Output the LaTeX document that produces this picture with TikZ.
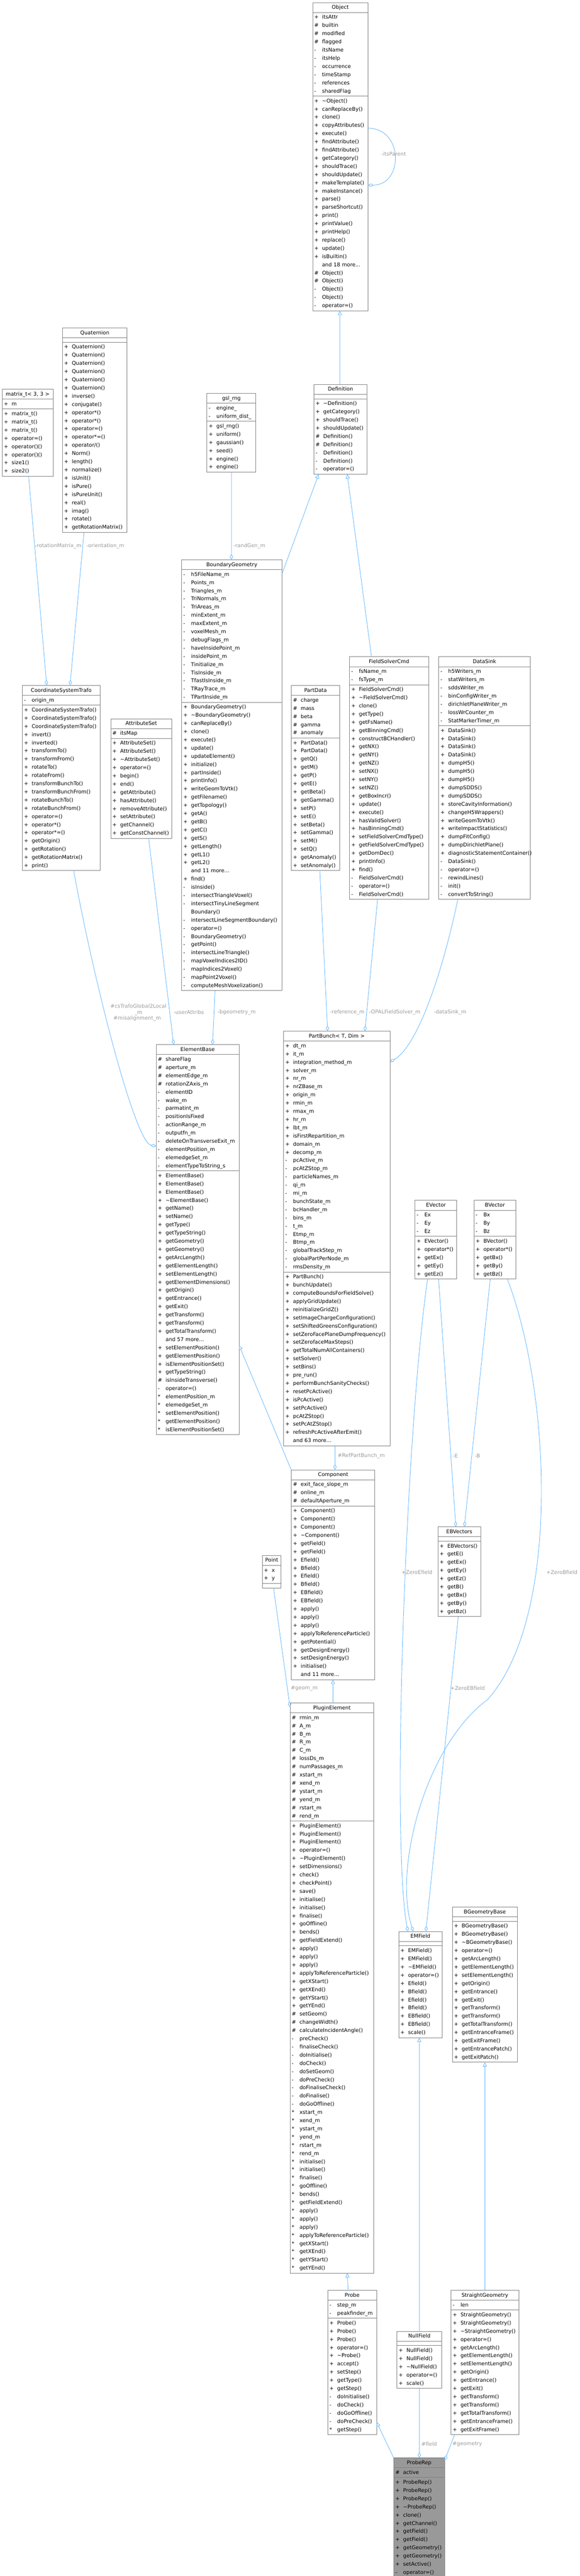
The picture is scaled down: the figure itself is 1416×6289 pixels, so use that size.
\documentclass[tikz,border=0pt]{standalone}
\usepackage{fontspec}
\setmainfont{DejaVu Sans}
\usetikzlibrary{shapes.multipart,arrows.meta}
\definecolor{boxgray}{HTML}{808080}
\definecolor{edgeblue}{HTML}{63B8FF}
\definecolor{labelgray}{HTML}{9A9A9A}
\definecolor{repfill}{HTML}{999999}
\newcommand\mm[2]{\makebox[19bp][l]{\strut#1}#2}
\newcommand\ttl[1]{\makebox[\linewidth]{\strut#1}}
\newcommand\emp{\rule{0pt}{7bp}}
\tikzset{
 cls/.style={rectangle split, rectangle split parts=3, draw=boxgray, line width=1bp, fill=white,
   inner xsep=4bp, inner ysep=1.5bp, anchor=north west, align=left, text width=#1bp-8bp,
   font=\fontsize{12.7bp}{20bp}\selectfont},
 edge/.style={draw=edgeblue, line width=1.1bp},
 agg/.style={edge, -{Diamond[open, length=13bp, width=8bp]}},
 inh/.style={edge, -{Triangle[open, length=10bp, width=10bp]}},
 lbl/.style={font=\fontsize{12.7bp}{14bp}\selectfont, text=labelgray, inner sep=0pt, align=center}
}
\begin{document}
\begin{tikzpicture}[x=1bp,y=-1bp]
\useasboundingbox (0,0) rectangle (1416,6289);

\node[cls=135] (Obj) at (763,6) {\ttl{Object}\nodepart{two}\mm{+}{itsAttr}\\\mm{\#}{builtin}\\\mm{\#}{modified}\\\mm{\#}{flagged}\\\mm{-}{itsName}\\\mm{-}{itsHelp}\\\mm{-}{occurrence}\\\mm{-}{timeStamp}\\\mm{-}{references}\\\mm{-}{sharedFlag}
\nodepart{three}\mm{+}{\textasciitilde Object()}\\\mm{+}{canReplaceBy()}\\\mm{+}{clone()}\\\mm{+}{copyAttributes()}\\\mm{+}{execute()}\\\mm{+}{findAttribute()}\\\mm{+}{findAttribute()}\\\mm{+}{getCategory()}\\\mm{+}{shouldTrace()}\\\mm{+}{shouldUpdate()}\\\mm{+}{makeTemplate()}\\\mm{+}{makeInstance()}\\\mm{+}{parse()}\\\mm{+}{parseShortcut()}\\\mm{+}{print()}\\\mm{+}{printValue()}\\\mm{+}{printHelp()}\\\mm{+}{replace()}\\\mm{+}{update()}\\\mm{+}{isBuiltin()}\\\mm{}{and 18 more...}\\\mm{\#}{Object()}\\\mm{\#}{Object()}\\\mm{-}{Object()}\\\mm{-}{Object()}\\\mm{-}{operator=()}};

\node[cls=130] (Def) at (766,938) {\ttl{Definition}\nodepart{two}\emp\nodepart{three}\mm{+}{\textasciitilde Definition()}\\\mm{+}{getCategory()}\\\mm{+}{shouldTrace()}\\\mm{+}{shouldUpdate()}\\\mm{\#}{Definition()}\\\mm{\#}{Definition()}\\\mm{-}{Definition()}\\\mm{-}{Definition()}\\\mm{-}{operator=()}};

\node[cls=124] (Mat) at (5,950) {\ttl{matrix\_t< 3, 3 >}\nodepart{two}\mm{+}{m}\nodepart{three}\mm{+}{matrix\_t()}\\\mm{+}{matrix\_t()}\\\mm{+}{matrix\_t()}\\\mm{+}{operator=()}\\\mm{+}{operator()()}\\\mm{+}{operator()()}\\\mm{+}{size1()}\\\mm{+}{size2()}};

\node[cls=158] (Quat) at (152,800) {\ttl{Quaternion}\nodepart{two}\emp\nodepart{three}\mm{+}{Quaternion()}\\\mm{+}{Quaternion()}\\\mm{+}{Quaternion()}\\\mm{+}{Quaternion()}\\\mm{+}{Quaternion()}\\\mm{+}{Quaternion()}\\\mm{+}{inverse()}\\\mm{+}{conjugate()}\\\mm{+}{operator*()}\\\mm{+}{operator*()}\\\mm{+}{operator=()}\\\mm{+}{operator*=()}\\\mm{+}{operator/()}\\\mm{+}{Norm()}\\\mm{+}{length()}\\\mm{+}{normalize()}\\\mm{+}{isUnit()}\\\mm{+}{isPure()}\\\mm{+}{isPureUnit()}\\\mm{+}{real()}\\\mm{+}{imag()}\\\mm{+}{rotate()}\\\mm{+}{getRotationMatrix()}};

\node[cls=119] (Gsl) at (505,960) {\ttl{gsl\_rng}\nodepart{two}\mm{-}{engine\_}\\\mm{-}{uniform\_dist\_}\nodepart{three}\mm{+}{gsl\_rng()}\\\mm{+}{uniform()}\\\mm{+}{gaussian()}\\\mm{+}{seed()}\\\mm{+}{engine()}\\\mm{+}{engine()}};

\node[cls=245] (BG) at (443,1366) {\ttl{BoundaryGeometry}\nodepart{two}\mm{-}{h5FileName\_m}\\\mm{-}{Points\_m}\\\mm{-}{Triangles\_m}\\\mm{-}{TriNormals\_m}\\\mm{-}{TriAreas\_m}\\\mm{-}{minExtent\_m}\\\mm{-}{maxExtent\_m}\\\mm{-}{voxelMesh\_m}\\\mm{-}{debugFlags\_m}\\\mm{-}{haveInsidePoint\_m}\\\mm{-}{insidePoint\_m}\\\mm{-}{Tinitialize\_m}\\\mm{-}{TisInside\_m}\\\mm{-}{TfastIsInside\_m}\\\mm{-}{TRayTrace\_m}\\\mm{-}{TPartInside\_m}
\nodepart{three}\mm{+}{BoundaryGeometry()}\\\mm{+}{\textasciitilde BoundaryGeometry()}\\\mm{+}{canReplaceBy()}\\\mm{+}{clone()}\\\mm{+}{execute()}\\\mm{+}{update()}\\\mm{+}{updateElement()}\\\mm{+}{initialize()}\\\mm{+}{partInside()}\\\mm{+}{printInfo()}\\\mm{+}{writeGeomToVtk()}\\\mm{+}{getFilename()}\\\mm{+}{getTopology()}\\\mm{+}{getA()}\\\mm{+}{getB()}\\\mm{+}{getC()}\\\mm{+}{getS()}\\\mm{+}{getLength()}\\\mm{+}{getL1()}\\\mm{+}{getL2()}\\\mm{}{and 11 more...}\\\mm{+}{find()}\\\mm{-}{isInside()}\\\mm{-}{intersectTriangleVoxel()}\\\mm{-}{intersectTinyLineSegment}\\\mm{}{Boundary()}\\\mm{-}{intersectLineSegmentBoundary()}\\\mm{-}{operator=()}\\\mm{-}{BoundaryGeometry()}\\\mm{-}{getPoint()}\\\mm{-}{intersectLineTriangle()}\\\mm{-}{mapVoxelIndices2ID()}\\\mm{-}{mapIndices2Voxel()}\\\mm{-}{mapPoint2Voxel()}\\\mm{-}{computeMeshVoxelization()}};

\node[cls=190] (CST) at (54,1673) {\ttl{CoordinateSystemTrafo}\nodepart{two}\mm{-}{origin\_m}\nodepart{three}\mm{+}{CoordinateSystemTrafo()}\\\mm{+}{CoordinateSystemTrafo()}\\\mm{+}{CoordinateSystemTrafo()}\\\mm{+}{invert()}\\\mm{+}{inverted()}\\\mm{+}{transformTo()}\\\mm{+}{transformFrom()}\\\mm{+}{rotateTo()}\\\mm{+}{rotateFrom()}\\\mm{+}{transformBunchTo()}\\\mm{+}{transformBunchFrom()}\\\mm{+}{rotateBunchTo()}\\\mm{+}{rotateBunchFrom()}\\\mm{+}{operator=()}\\\mm{+}{operator*()}\\\mm{+}{operator*=()}\\\mm{+}{getOrigin()}\\\mm{+}{getRotation()}\\\mm{+}{getRotationMatrix()}\\\mm{+}{print()}};

\node[cls=149] (AS) at (270,1754) {\ttl{AttributeSet}\nodepart{two}\mm{\#}{itsMap}\nodepart{three}\mm{+}{AttributeSet()}\\\mm{+}{AttributeSet()}\\\mm{+}{\textasciitilde AttributeSet()}\\\mm{+}{operator=()}\\\mm{+}{begin()}\\\mm{+}{end()}\\\mm{+}{getAttribute()}\\\mm{+}{hasAttribute()}\\\mm{+}{removeAttribute()}\\\mm{+}{setAttribute()}\\\mm{+}{getChannel()}\\\mm{+}{getConstChannel()}};

\node[cls=118] (PD) at (711,1673) {\ttl{PartData}\nodepart{two}\mm{\#}{charge}\\\mm{\#}{mass}\\\mm{\#}{beta}\\\mm{\#}{gamma}\\\mm{\#}{anomaly}\nodepart{three}\mm{+}{PartData()}\\\mm{+}{PartData()}\\\mm{+}{getQ()}\\\mm{+}{getM()}\\\mm{+}{getP()}\\\mm{+}{getE()}\\\mm{+}{getBeta()}\\\mm{+}{getGamma()}\\\mm{+}{setP()}\\\mm{+}{setE()}\\\mm{+}{setBeta()}\\\mm{+}{setGamma()}\\\mm{+}{setM()}\\\mm{+}{setQ()}\\\mm{+}{getAnomaly()}\\\mm{+}{setAnomaly()}};

\node[cls=193] (FSC) at (853,1603) {\ttl{FieldSolverCmd}\nodepart{two}\mm{-}{fsName\_m}\\\mm{-}{fsType\_m}\nodepart{three}\mm{+}{FieldSolverCmd()}\\\mm{+}{\textasciitilde FieldSolverCmd()}\\\mm{+}{clone()}\\\mm{+}{getType()}\\\mm{+}{getFsName()}\\\mm{+}{getBinningCmd()}\\\mm{+}{constructBCHandler()}\\\mm{+}{getNX()}\\\mm{+}{getNY()}\\\mm{+}{getNZ()}\\\mm{+}{setNX()}\\\mm{+}{setNY()}\\\mm{+}{setNZ()}\\\mm{+}{getBoxIncr()}\\\mm{+}{update()}\\\mm{+}{execute()}\\\mm{+}{hasValidSolver()}\\\mm{+}{hasBinningCmd()}\\\mm{+}{setFieldSolverCmdType()}\\\mm{+}{getFieldSolverCmdType()}\\\mm{+}{getDomDec()}\\\mm{+}{printInfo()}\\\mm{+}{find()}\\\mm{-}{FieldSolverCmd()}\\\mm{-}{operator=()}\\\mm{-}{FieldSolverCmd()}};

\node[cls=223] (DS) at (1071,1603) {\ttl{DataSink}\nodepart{two}\mm{-}{h5Writers\_m}\\\mm{-}{statWriters\_m}\\\mm{-}{sddsWriter\_m}\\\mm{-}{binConfigWriter\_m}\\\mm{-}{dirichletPlaneWriter\_m}\\\mm{-}{lossWrCounter\_m}\\\mm{-}{StatMarkerTimer\_m}\nodepart{three}\mm{+}{DataSink()}\\\mm{+}{DataSink()}\\\mm{+}{DataSink()}\\\mm{+}{DataSink()}\\\mm{+}{dumpH5()}\\\mm{+}{dumpH5()}\\\mm{+}{dumpH5()}\\\mm{+}{dumpSDDS()}\\\mm{+}{dumpSDDS()}\\\mm{+}{storeCavityInformation()}\\\mm{+}{changeH5Wrappers()}\\\mm{+}{writeGeomToVtk()}\\\mm{+}{writeImpactStatistics()}\\\mm{+}{dumpFitConfig()}\\\mm{+}{dumpDirichletPlane()}\\\mm{+}{diagnosticStatementContainer()}\\\mm{-}{DataSink()}\\\mm{-}{operator=()}\\\mm{-}{rewindLines()}\\\mm{-}{init()}\\\mm{-}{convertToString()}};

\node[cls=202] (EB) at (381,2550) {\ttl{ElementBase}\nodepart{two}\mm{\#}{shareFlag}\\\mm{\#}{aperture\_m}\\\mm{\#}{elementEdge\_m}\\\mm{\#}{rotationZAxis\_m}\\\mm{-}{elementID}\\\mm{-}{wake\_m}\\\mm{-}{parmatint\_m}\\\mm{-}{positionIsFixed}\\\mm{-}{actionRange\_m}\\\mm{-}{outputfn\_m}\\\mm{-}{deleteOnTransverseExit\_m}\\\mm{-}{elementPosition\_m}\\\mm{-}{elemedgeSet\_m}\\\mm{-}{elementTypeToString\_s}
\nodepart{three}\mm{+}{ElementBase()}\\\mm{+}{ElementBase()}\\\mm{+}{ElementBase()}\\\mm{+}{\textasciitilde ElementBase()}\\\mm{+}{getName()}\\\mm{+}{setName()}\\\mm{+}{getType()}\\\mm{+}{getTypeString()}\\\mm{+}{getGeometry()}\\\mm{+}{getGeometry()}\\\mm{+}{getArcLength()}\\\mm{+}{getElementLength()}\\\mm{+}{setElementLength()}\\\mm{+}{getElementDimensions()}\\\mm{+}{getOrigin()}\\\mm{+}{getEntrance()}\\\mm{+}{getExit()}\\\mm{+}{getTransform()}\\\mm{+}{getTransform()}\\\mm{+}{getTotalTransform()}\\\mm{}{and 57 more...}\\\mm{+}{setElementPosition()}\\\mm{+}{getElementPosition()}\\\mm{+}{isElementPositionSet()}\\\mm{+}{getTypeString()}\\\mm{\#}{isInsideTransverse()}\\\mm{-}{operator=()}\\\mm{*}{elementPosition\_m}\\\mm{*}{elemedgeSet\_m}\\\mm{*}{setElementPosition()}\\\mm{*}{getElementPosition()}\\\mm{*}{isElementPositionSet()}};

\node[cls=260] (PB) at (692,2517) {\ttl{PartBunch< T, Dim >}\nodepart{two}\mm{+}{dt\_m}\\\mm{+}{it\_m}\\\mm{+}{integration\_method\_m}\\\mm{+}{solver\_m}\\\mm{+}{nr\_m}\\\mm{+}{nrZBase\_m}\\\mm{+}{origin\_m}\\\mm{+}{rmin\_m}\\\mm{+}{rmax\_m}\\\mm{+}{hr\_m}\\\mm{+}{lbt\_m}\\\mm{+}{isFirstRepartition\_m}\\\mm{+}{domain\_m}\\\mm{+}{decomp\_m}\\\mm{-}{pcActive\_m}\\\mm{-}{pcAtZStop\_m}\\\mm{-}{particleNames\_m}\\\mm{-}{qi\_m}\\\mm{-}{mi\_m}\\\mm{-}{bunchState\_m}\\\mm{-}{bcHandler\_m}\\\mm{-}{bins\_m}\\\mm{-}{t\_m}\\\mm{-}{Etmp\_m}\\\mm{-}{Btmp\_m}\\\mm{-}{globalTrackStep\_m}\\\mm{-}{globalPartPerNode\_m}\\\mm{-}{rmsDensity\_m}
\nodepart{three}\mm{+}{PartBunch()}\\\mm{+}{bunchUpdate()}\\\mm{+}{computeBoundsForFieldSolve()}\\\mm{+}{applyGridUpdate()}\\\mm{+}{reinitializeGridZ()}\\\mm{+}{setImageChargeConfiguration()}\\\mm{+}{setShiftedGreensConfiguration()}\\\mm{+}{setZeroFacePlaneDumpFrequency()}\\\mm{+}{setZerofaceMaxSteps()}\\\mm{+}{getTotalNumAllContainers()}\\\mm{+}{setSolver()}\\\mm{+}{setBins()}\\\mm{+}{pre\_run()}\\\mm{+}{performBunchSanityChecks()}\\\mm{+}{resetPcActive()}\\\mm{+}{isPcActive()}\\\mm{+}{setPcActive()}\\\mm{+}{pcAtZStop()}\\\mm{+}{setPcAtZStop()}\\\mm{+}{refreshPcActiveAfterEmit()}\\\mm{}{and 63 more...}};

\node[cls=102] (EV) at (1013,2930) {\ttl{EVector}\nodepart{two}\mm{-}{Ex}\\\mm{-}{Ey}\\\mm{-}{Ez}\nodepart{three}\mm{+}{EVector()}\\\mm{+}{operator*()}\\\mm{+}{getEx()}\\\mm{+}{getEy()}\\\mm{+}{getEz()}};
\node[cls=102] (BV) at (1157,2930) {\ttl{BVector}\nodepart{two}\mm{-}{Bx}\\\mm{-}{By}\\\mm{-}{Bz}\nodepart{three}\mm{+}{BVector()}\\\mm{+}{operator*()}\\\mm{+}{getBx()}\\\mm{+}{getBy()}\\\mm{+}{getBz()}};

\node[cls=204] (Comp) at (711,3588) {\ttl{Component}\nodepart{two}\mm{\#}{exit\_face\_slope\_m}\\\mm{\#}{online\_m}\\\mm{\#}{defaultAperture\_m}\nodepart{three}\mm{+}{Component()}\\\mm{+}{Component()}\\\mm{+}{Component()}\\\mm{+}{\textasciitilde Component()}\\\mm{+}{getField()}\\\mm{+}{getField()}\\\mm{+}{Efield()}\\\mm{+}{Bfield()}\\\mm{+}{Efield()}\\\mm{+}{Bfield()}\\\mm{+}{EBfield()}\\\mm{+}{EBfield()}\\\mm{+}{apply()}\\\mm{+}{apply()}\\\mm{+}{apply()}\\\mm{+}{applyToReferenceParticle()}\\\mm{+}{getPotential()}\\\mm{+}{getDesignEnergy()}\\\mm{+}{setDesignEnergy()}\\\mm{+}{initialise()}\\\mm{}{and 11 more...}};

\node[cls=46] (Pt) at (640,3797) {\ttl{Point}\nodepart{two}\mm{+}{x}\\\mm{+}{y}\nodepart{three}\emp};

\node[cls=104] (EBV) at (1069,3727) {\ttl{EBVectors}\nodepart{two}\emp\nodepart{three}\mm{+}{EBVectors()}\\\mm{+}{getE()}\\\mm{+}{getEx()}\\\mm{+}{getEy()}\\\mm{+}{getEz()}\\\mm{+}{getB()}\\\mm{+}{getBx()}\\\mm{+}{getBy()}\\\mm{+}{getBz()}};

\node[cls=204] (PE) at (708,4157) {\ttl{PluginElement}\nodepart{two}\mm{\#}{rmin\_m}\\\mm{\#}{A\_m}\\\mm{\#}{B\_m}\\\mm{\#}{R\_m}\\\mm{\#}{C\_m}\\\mm{\#}{lossDs\_m}\\\mm{\#}{numPassages\_m}\\\mm{\#}{xstart\_m}\\\mm{\#}{xend\_m}\\\mm{\#}{ystart\_m}\\\mm{\#}{yend\_m}\\\mm{\#}{rstart\_m}\\\mm{\#}{rend\_m}
\nodepart{three}\mm{+}{PluginElement()}\\\mm{+}{PluginElement()}\\\mm{+}{PluginElement()}\\\mm{+}{operator=()}\\\mm{+}{\textasciitilde PluginElement()}\\\mm{+}{setDimensions()}\\\mm{+}{check()}\\\mm{+}{checkPoint()}\\\mm{+}{save()}\\\mm{+}{initialise()}\\\mm{+}{initialise()}\\\mm{+}{finalise()}\\\mm{+}{goOffline()}\\\mm{+}{bends()}\\\mm{+}{getFieldExtend()}\\\mm{+}{apply()}\\\mm{+}{apply()}\\\mm{+}{apply()}\\\mm{+}{applyToReferenceParticle()}\\\mm{+}{getXStart()}\\\mm{+}{getXEnd()}\\\mm{+}{getYStart()}\\\mm{+}{getYEnd()}\\\mm{\#}{setGeom()}\\\mm{\#}{changeWidth()}\\\mm{\#}{calculateIncidentAngle()}\\\mm{-}{preCheck()}\\\mm{-}{finaliseCheck()}\\\mm{-}{doInitialise()}\\\mm{-}{doCheck()}\\\mm{-}{doSetGeom()}\\\mm{-}{doPreCheck()}\\\mm{-}{doFinaliseCheck()}\\\mm{-}{doFinalise()}\\\mm{-}{doGoOffline()}\\\mm{*}{xstart\_m}\\\mm{*}{xend\_m}\\\mm{*}{ystart\_m}\\\mm{*}{yend\_m}\\\mm{*}{rstart\_m}\\\mm{*}{rend\_m}\\\mm{*}{initialise()}\\\mm{*}{initialise()}\\\mm{*}{finalise()}\\\mm{*}{goOffline()}\\\mm{*}{bends()}\\\mm{*}{getFieldExtend()}\\\mm{*}{apply()}\\\mm{*}{apply()}\\\mm{*}{apply()}\\\mm{*}{applyToReferenceParticle()}\\\mm{*}{getXStart()}\\\mm{*}{getXEnd()}\\\mm{*}{getYStart()}\\\mm{*}{getYEnd()}};

\node[cls=106] (EM) at (973,4715) {\ttl{EMField}\nodepart{two}\emp\nodepart{three}\mm{+}{EMField()}\\\mm{+}{EMField()}\\\mm{+}{\textasciitilde EMField()}\\\mm{+}{operator=()}\\\mm{+}{Efield()}\\\mm{+}{Bfield()}\\\mm{+}{Efield()}\\\mm{+}{Bfield()}\\\mm{+}{EBfield()}\\\mm{+}{EBfield()}\\\mm{+}{scale()}};

\node[cls=159] (BGB) at (1104,4655) {\ttl{BGeometryBase}\nodepart{two}\emp\nodepart{three}\mm{+}{BGeometryBase()}\\\mm{+}{BGeometryBase()}\\\mm{+}{\textasciitilde BGeometryBase()}\\\mm{+}{operator=()}\\\mm{+}{getArcLength()}\\\mm{+}{getElementLength()}\\\mm{+}{setElementLength()}\\\mm{+}{getOrigin()}\\\mm{+}{getEntrance()}\\\mm{+}{getExit()}\\\mm{+}{getTransform()}\\\mm{+}{getTransform()}\\\mm{+}{getTotalTransform()}\\\mm{+}{getEntranceFrame()}\\\mm{+}{getExitFrame()}\\\mm{+}{getEntrancePatch()}\\\mm{+}{getExitPatch()}};

\node[cls=119] (Pr) at (800,5591) {\ttl{Probe}\nodepart{two}\mm{-}{step\_m}\\\mm{-}{peakfinder\_m}\nodepart{three}\mm{+}{Probe()}\\\mm{+}{Probe()}\\\mm{+}{Probe()}\\\mm{+}{operator=()}\\\mm{+}{\textasciitilde Probe()}\\\mm{+}{accept()}\\\mm{+}{setStep()}\\\mm{+}{getType()}\\\mm{+}{getStep()}\\\mm{-}{doInitialise()}\\\mm{-}{doCheck()}\\\mm{-}{doGoOffline()}\\\mm{-}{doPreCheck()}\\\mm{*}{getStep()}};

\node[cls=109] (NF) at (969,5691) {\ttl{NullField}\nodepart{two}\emp\nodepart{three}\mm{+}{NullField()}\\\mm{+}{NullField()}\\\mm{+}{\textasciitilde NullField()}\\\mm{+}{operator=()}\\\mm{+}{scale()}};

\node[cls=165] (SG) at (1101,5591) {\ttl{StraightGeometry}\nodepart{two}\mm{-}{len}\nodepart{three}\mm{+}{StraightGeometry()}\\\mm{+}{StraightGeometry()}\\\mm{+}{\textasciitilde StraightGeometry()}\\\mm{+}{operator=()}\\\mm{+}{getArcLength()}\\\mm{+}{getElementLength()}\\\mm{+}{setElementLength()}\\\mm{+}{getOrigin()}\\\mm{+}{getEntrance()}\\\mm{+}{getExit()}\\\mm{+}{getTransform()}\\\mm{+}{getTransform()}\\\mm{+}{getTotalTransform()}\\\mm{+}{getEntranceFrame()}\\\mm{+}{getExitFrame()}};

\node[cls=124, fill=repfill] (PR) at (961,6000) {\ttl{ProbeRep}\nodepart{two}\mm{\#}{active}\nodepart{three}\mm{+}{ProbeRep()}\\\mm{+}{ProbeRep()}\\\mm{+}{ProbeRep()}\\\mm{+}{\textasciitilde ProbeRep()}\\\mm{+}{clone()}\\\mm{+}{getChannel()}\\\mm{+}{getField()}\\\mm{+}{getField()}\\\mm{+}{getGeometry()}\\\mm{+}{getGeometry()}\\\mm{+}{setActive()}\\\mm{-}{operator=()}};

% connectors
\draw[inh] ([xshift=64bp]Def.north west) -- ([xshift=67bp]Obj.south west);
\draw[agg] ([yshift=-307bp]Obj.north east) to[out=0,in=0,looseness=1.6] ([yshift=-446bp]Obj.north east);
\node[lbl] (lpar) at (961,376) {-itsParent};
\draw[agg] ([xshift=65bp]Mat.south west) -- ([xshift=60bp]CST.north west);
\node[lbl] (lrot) at (142,1333) {-rotationMatrix\_m};
\draw[agg] ([xshift=53bp]Quat.south west) -- ([xshift=117bp]CST.north west);
\node[lbl] (lori) at (257,1333) {-orientation\_m};
\draw[agg] ([xshift=60bp]Gsl.south west) -- ([xshift=122bp]BG.north west);
\node[lbl] (lrng) at (609,1333) {-randGen\_m};
\draw[inh] ([yshift=-34bp]BG.north east) -- ([xshift=12bp]Def.south west);
\draw[inh] ([xshift=54bp]FSC.north west) -- ([xshift=82bp]Def.south west);
\draw[agg] ([xshift=126bp]CST.south west) .. controls (230,2400) and (330,2790) .. ([yshift=-248bp]EB.north west);
\node[lbl] (lcs) at (338,2465) {\#csTrafoGlobal2Local\\\_m};
\node[lbl] (lmis) at (335,2486) {\#misalignment\_m};
\draw[agg] ([xshift=93bp]AS.south west) -- ([xshift=43bp]EB.north west);
\node[lbl] (lua) at (461,2471) {-userAttribs};
\draw[agg] ([xshift=82bp]BG.south west) -- ([xshift=138bp]EB.north west);
\node[lbl] (lbg) at (578,2471) {-bgeometry\_m};
\draw[agg] ([xshift=70bp]PD.south west) -- ([xshift=108bp]PB.north west);
\node[lbl] (lref) at (848,2471) {-reference\_m};
\draw[agg] ([xshift=69bp]FSC.south west) -- ([xshift=199bp]PB.north west);
\node[lbl] (lfs) at (964,2471) {-OPALFieldSolver\_m};
\draw[agg] ([xshift=47bp]DS.south west) .. controls (1070,2420) and (1010,2560) .. ([yshift=-75bp]PB.north east);
\node[lbl] (lds) at (1099,2471) {-dataSink\_m};
\draw[inh] (Comp.north west) -- ([yshift=-735bp]EB.north east);
\draw[agg] ([xshift=126bp]PB.south west) -- ([xshift=107bp]Comp.north west);
\node[lbl] (lrpb) at (882,3554) {\#RefPartBunch\_m};
\draw[inh] ([xshift=105bp]PE.north west) -- ([xshift=102bp]Comp.south west);
\draw[agg] ([xshift=28bp]Pt.south west) -- ([yshift=-10bp]PE.north west);
\node[lbl] (lgeom) at (743,4122) {\#geom\_m};
\draw[inh] ([xshift=50bp]Pr.north west) -- ([xshift=140bp]PE.south west);
\draw[inh] (PR.north west) -- ([yshift=30bp]Pr.south east);
\draw[agg] ([xshift=55bp]NF.south west) -- ([xshift=63bp]PR.north west);
\node[lbl] (lfield) at (1048,5967) {\#field};
\draw[agg] ([xshift=9bp]SG.south west) -- ([yshift=-6bp]PR.north east);
\node[lbl] (lgeo) at (1141,5967) {\#geometry};
\draw[inh] ([xshift=55bp]NF.north west) -- ([xshift=51bp]EM.south west);
\draw[inh] ([xshift=83bp]SG.north west) -- ([xshift=80bp]BGB.south west);
\draw[agg] ([xshift=58bp]EV.south west) -- ([xshift=44bp]EBV.north west);
\node[lbl] (lE) at (1112,3554) {-E};
\draw[agg] ([xshift=40bp]BV.south west) -- ([xshift=65bp]EBV.north west);
\node[lbl] (lB) at (1166,3554) {-B};
\draw[agg] ([xshift=31bp]EV.south west) .. controls (990,3500) and (955,4500) .. ([xshift=23bp]EM.north west);
\node[lbl] (lze) at (1018,3839) {+ZeroEfield};
\draw[agg] ([xshift=82bp]BV.south west) .. controls (1345,3400) and (1370,3950) .. (1190,4150) .. controls (1040,4260) and (960,4560) .. ([xshift=36bp]EM.north west);
\node[lbl] (lzb) at (1372,3839) {+ZeroBfield};
\draw[agg] ([xshift=50bp]EBV.south west) -- ([xshift=67bp]EM.north west);
\node[lbl] (lzeb) at (1142,4122) {+ZeroEBfield};
\end{tikzpicture}
\end{document}
